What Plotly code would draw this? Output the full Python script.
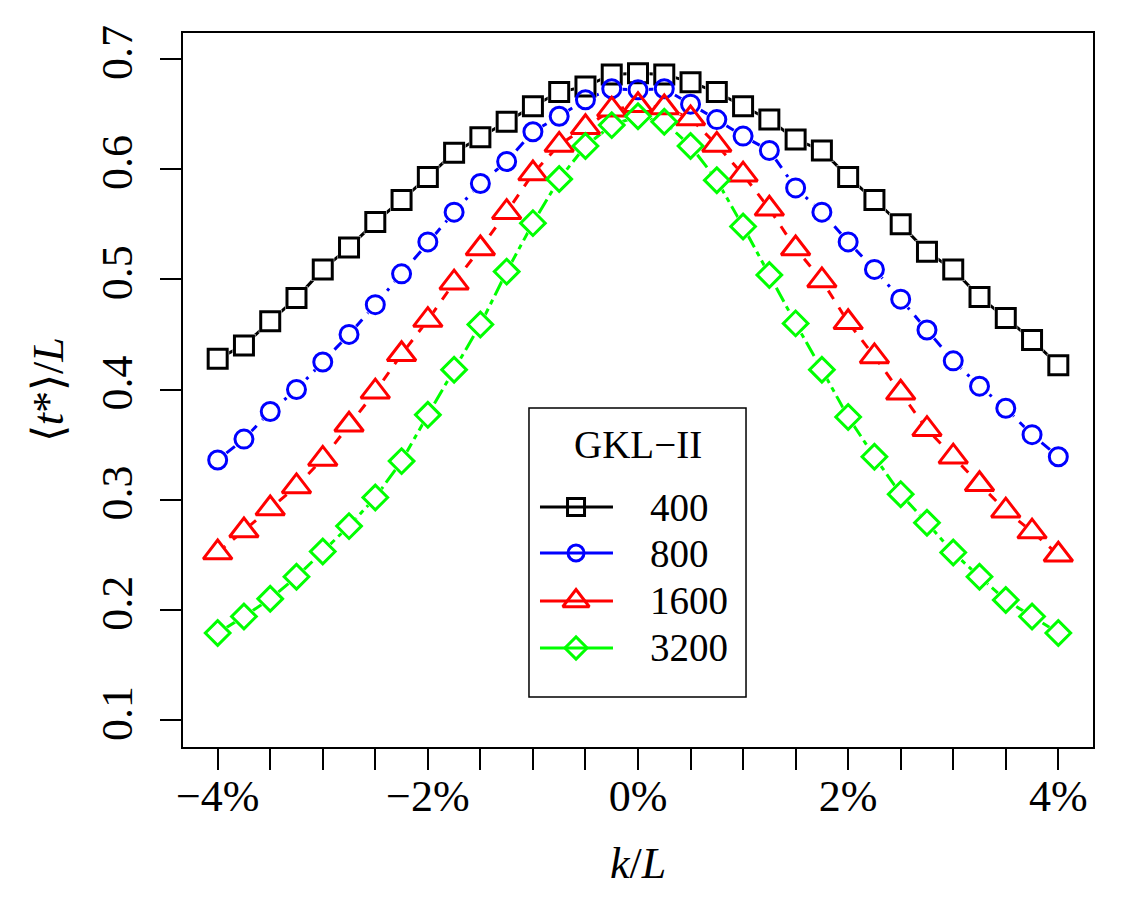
import plotly.graph_objects as go

# ---------------- data ----------------
k_pct = [-4.0, -3.75, -3.5, -3.25, -3.0, -2.75, -2.5, -2.25, -2.0, -1.75, -1.5, -1.25, -1.0,
         -0.75, -0.5, -0.25, 0.0, 0.25, 0.5, 0.75, 1.0, 1.25, 1.5, 1.75, 2.0, 2.25, 2.5,
         2.75, 3.0, 3.25, 3.5, 3.75, 4.0]

t_400 = [0.428, 0.440, 0.462, 0.483, 0.509, 0.529, 0.552, 0.572, 0.593, 0.615, 0.629, 0.643, 0.657,
         0.670, 0.675, 0.686, 0.687, 0.686, 0.679, 0.670, 0.657, 0.645, 0.627, 0.617, 0.593, 0.572,
         0.550, 0.525, 0.509, 0.484, 0.465, 0.445, 0.422]
t_800 = [0.336, 0.355, 0.380, 0.400, 0.425, 0.450, 0.477, 0.505, 0.534, 0.561, 0.587, 0.607, 0.634,
         0.648, 0.663, 0.673, 0.672, 0.673, 0.659, 0.645, 0.630, 0.617, 0.583, 0.561, 0.534, 0.509,
         0.482, 0.454, 0.426, 0.403, 0.383, 0.359, 0.339]
t_1600 = [0.252, 0.272, 0.292, 0.312, 0.337, 0.368, 0.398, 0.432, 0.463, 0.497, 0.528, 0.561, 0.596,
          0.622, 0.638, 0.654, 0.658, 0.656, 0.646, 0.622, 0.595, 0.564, 0.528, 0.499, 0.461, 0.430,
          0.397, 0.364, 0.339, 0.314, 0.290, 0.271, 0.250]
t_3200 = [0.179, 0.194, 0.210, 0.230, 0.253, 0.276, 0.302, 0.335, 0.377, 0.418, 0.459, 0.507, 0.551,
          0.591, 0.621, 0.640, 0.648, 0.643, 0.621, 0.590, 0.548, 0.504, 0.460, 0.418, 0.375, 0.339,
          0.305, 0.279, 0.252, 0.230, 0.209, 0.194, 0.179]

series_names = ["400", "800", "1600", "3200"]
series_values = [t_400, t_800, t_1600, t_3200]
legend_title = "GKL\u2212II"

x_tick_vals = [-4.0, -3.5, -3.0, -2.5, -2.0, -1.5, -1.0, -0.5, 0.0, 0.5, 1.0, 1.5, 2.0, 2.5, 3.0, 3.5, 4.0]
x_tick_text = ["\u22124%", "", "", "", "\u22122%", "", "", "", "0%", "", "", "", "2%", "", "", "", "4%"]
y_tick_vals = [0.1, 0.2, 0.3, 0.4, 0.5, 0.6, 0.7]
y_tick_text = ["0.1", "0.2", "0.3", "0.4", "0.5", "0.6", "0.7"]

# ---------------- styles ----------------
colors = ["#000000", "#0000FF", "#FF0000", "#00FF00"]
symbols = ["square", "circle", "triangle-up", "diamond"]
sizes = [19, 18, 25, 19]
dashes = ["solid", "3px,8px,11px,8px", "10px,10px", "5px,5px,16px,5px"]
LW = 3.0
FONT = "Liberation Serif"

fig = go.Figure()

# lines
for name, yv, c, d in zip(series_names, series_values, colors, dashes):
    fig.add_trace(go.Scatter(x=k_pct, y=yv, mode="lines",
                             line=dict(color=c, width=LW, dash=d),
                             showlegend=False, hoverinfo="skip"))
# white masks (gap of the line around the points)
for name, yv, s, sz in zip(series_names, series_values, symbols, sizes):
    fig.add_trace(go.Scatter(x=k_pct, y=yv, mode="markers",
                             marker=dict(symbol=s, size=sz + 4, color="white",
                                         line=dict(width=0)),
                             showlegend=False, hoverinfo="skip"))
# open markers
for name, yv, c, s, sz in zip(series_names, series_values, colors, symbols, sizes):
    fig.add_trace(go.Scatter(x=k_pct, y=yv, mode="markers", name=name,
                             marker=dict(symbol=s + "-open", size=sz, color=c,
                                         line=dict(color=c, width=LW)),
                             showlegend=False))

# ---------------- manual legend (overlay axes in paper-like units) ----------------
leg_rows = [0.3361, 0.2717, 0.2045, 0.1387]
for name, c, s, sz, yr in zip(series_names, colors, symbols, sizes, leg_rows):
    fig.add_trace(go.Scatter(x=[0.3923, 0.4725], y=[yr, yr], mode="lines",
                             line=dict(color=c, width=LW), xaxis="x2", yaxis="y2",
                             showlegend=False, hoverinfo="skip"))
    fig.add_trace(go.Scatter(x=[0.4319], y=[yr], mode="markers",
                             marker=dict(symbol=s + "-open", size=sz - 2, color=c,
                                         line=dict(color=c, width=LW)),
                             xaxis="x2", yaxis="y2", showlegend=False, hoverinfo="skip"))
    fig.add_annotation(x=0.511, y=yr, xref="x2", yref="y2", text=name, showarrow=False,
                       xanchor="left", yanchor="middle",
                       font=dict(family=FONT, size=39, color="black"))

fig.add_annotation(x=0.5, y=0.423, xref="x2", yref="y2", text=legend_title, showarrow=False,
                   xanchor="center", yanchor="middle",
                   font=dict(family=FONT, size=39, color="black"))
fig.add_shape(type="rect", xref="paper", yref="paper", x0=0.3802, x1=0.6187, y0=0.070, y1=0.4748,
              line=dict(color="black", width=1.5), fillcolor="rgba(0,0,0,0)")

# axis titles
fig.add_annotation(x=0.5, y=-0.1625, xref="paper", yref="paper",
                   text="<i>k</i>/<i>L</i>", showarrow=False, xanchor="center", yanchor="middle",
                   font=dict(family=FONT, size=44, color="black"))
fig.add_annotation(x=-0.148, y=0.5, xref="paper", yref="paper",
                   text="\u27e8<i>t</i>*\u27e9/<i>L</i>", showarrow=False, textangle=-90,
                   xanchor="center", yanchor="middle",
                   font=dict(family=FONT, size=44, color="black"))

axis_common = dict(showgrid=False, zeroline=False, showline=True, mirror=True,
                   linecolor="black", linewidth=2, ticks="outside", ticklen=21,
                   tickwidth=2, tickcolor="black",
                   tickfont=dict(family=FONT, size=44, color="black"))

fig.update_layout(
    width=1125, height=900,
    margin=dict(l=183, r=32, t=33, b=153),
    paper_bgcolor="white", plot_bgcolor="white",
    showlegend=False,
    xaxis=dict(range=[-4.33, 4.33], tickmode="array", tickvals=x_tick_vals, ticktext=x_tick_text,
               ticklabelstandoff=-12, **axis_common),
    yaxis=dict(range=[0.0755, 0.7236], tickmode="array", tickvals=y_tick_vals, ticktext=y_tick_text,
               tickangle=-90, ticklabelstandoff=10, **axis_common),
    xaxis2=dict(overlaying="x", range=[0, 1], visible=False, fixedrange=True),
    yaxis2=dict(overlaying="y", range=[0, 1], visible=False, fixedrange=True),
)

fig.write_html("out.html")
